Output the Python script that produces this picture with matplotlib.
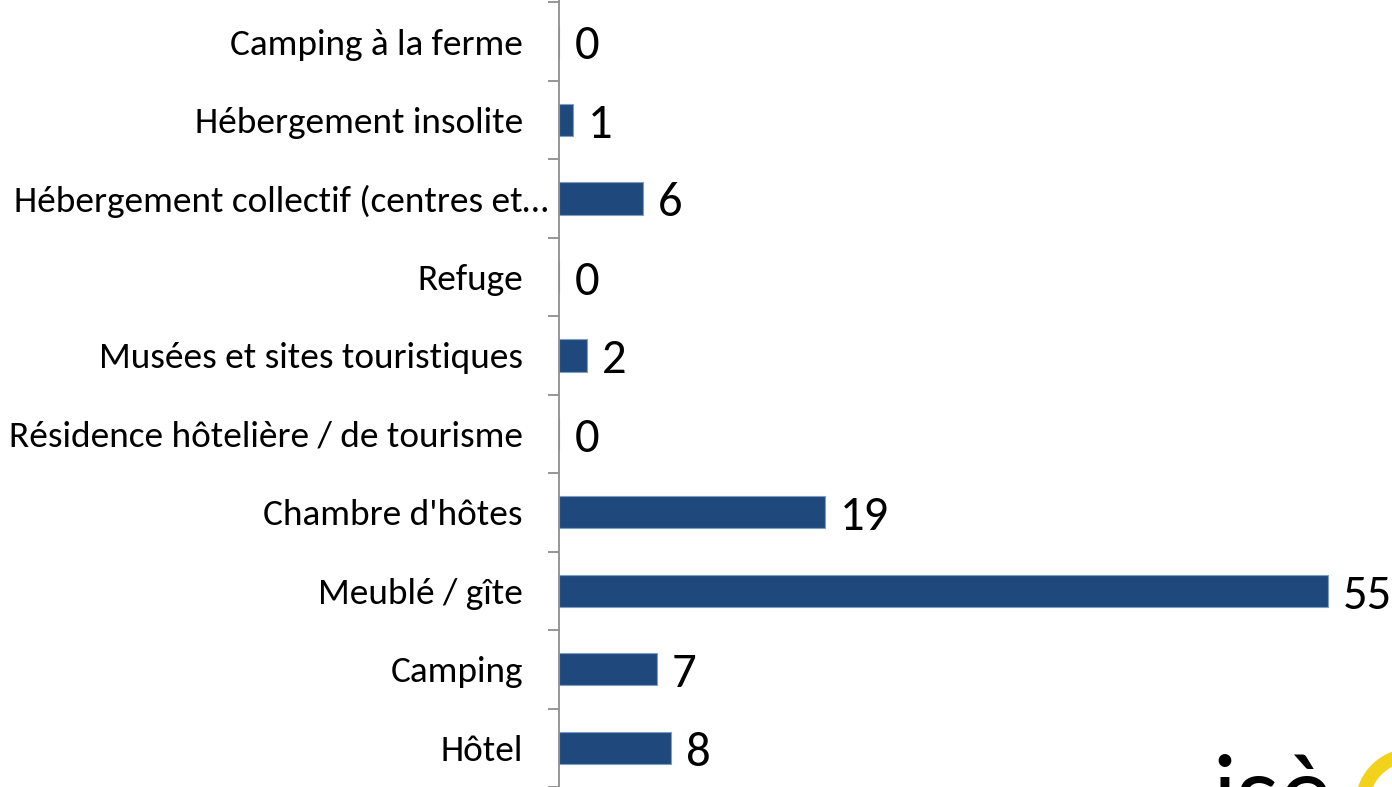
import matplotlib

matplotlib.use("Agg")
import matplotlib.pyplot as plt
import matplotlib.transforms as mtransforms
from matplotlib.patches import Arc
import numpy as np

# bottom-up order, as drawn by the spreadsheet
categories = [
    "Hôtel",
    "Camping",
    "Meublé / gîte",
    "Chambre d'hôtes",
    "Résidence hôtelière / de tourisme",
    "Musées et sites touristiques",
    "Refuge",
    "Hébergement collectif (centres et…",
    "Hébergement insolite",
    "Camping à la ferme",
]
counts = [8, 7, 55, 19, 0, 2, 0, 6, 1, 0]

bar_color = "#1F497D"
axis_grey = "#8E8E8E"

plt.rcParams["font.family"] = ["Carlito", "DejaVu Sans"]

fig = plt.figure(figsize=(13.92, 7.87), dpi=100)
ax = fig.add_axes([559 / 1392, 0, 1 - 559 / 1392, 1])

y = np.arange(len(categories))
bars = ax.barh(y, counts, height=0.41, color=bar_color,
               edgecolor="#7F9CC4", linewidth=0.8)
anns = ax.bar_label(bars, labels=[str(c) for c in counts], padding=11,
                    fontsize=35, color="black")
for a in anns:
    a.xyann = (11, -3.5)  # digits sit a little low in the original

ax.set_xlim(0, 59.6)
ax.set_ylim(-0.483, 9.53)

ax.set_yticks(y)
ax.set_yticklabels(categories, fontsize=26.8)
ax.set_yticks(np.arange(-0.5, len(categories), 1), minor=True)
ax.tick_params(axis="y", which="major", length=0, pad=26)
ax.tick_params(axis="y", which="minor", length=8, width=1.3,
               color=axis_grey, direction="out")
ax.set_xticks([])

for side in ("top", "right", "bottom"):
    ax.spines[side].set_visible(False)
ax.spines["left"].set_color(axis_grey)
ax.spines["left"].set_linewidth(1.3)

# the truncated label runs closer to the axis in the original
shift = mtransforms.ScaledTranslation(25 / 100, 0, fig.dpi_scale_trans)
for lbl in ax.get_yticklabels():
    if lbl.get_text().endswith("…"):
        lbl.set_transform(lbl.get_transform() + shift)

# partly visible logo in the lower right corner
fig.text(1212 / 1392, (787 - 828) / 787, "isè", fontsize=72,
         family=["Lato", "DejaVu Sans"], color="black", va="baseline")
fig.add_artist(Arc((1412 / 1392, 1 - 805 / 787), 100 / 1392, 100 / 787,
                   theta1=95, theta2=195, color="#F2D21B", lw=10,
                   transform=fig.transFigure))

fig.savefig("out.png", dpi=100)
